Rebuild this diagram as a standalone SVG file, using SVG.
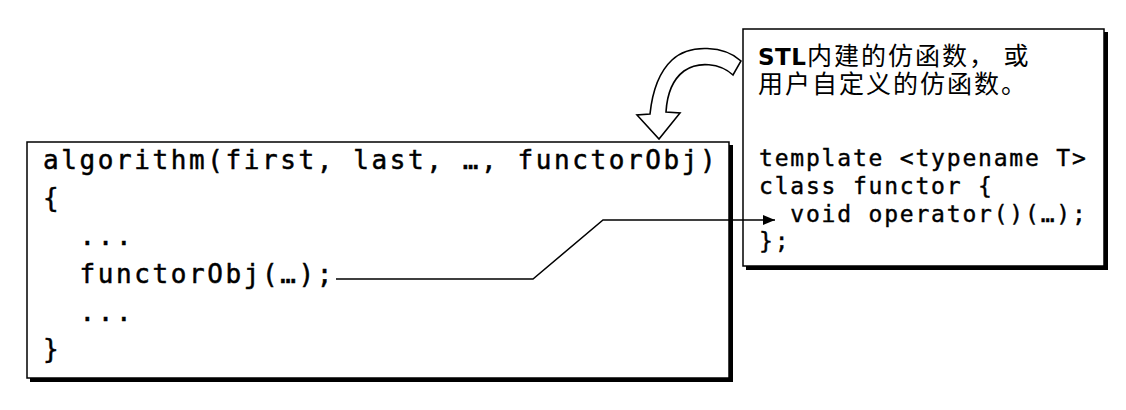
<svg xmlns="http://www.w3.org/2000/svg" width="1126" height="410" viewBox="0 0 1126 410">
  <style>
    .shadow { fill: #000; }
    .box { fill: #fff; stroke: #000; stroke-width: 1.5; }
    text { white-space: pre; }
    .codeL { font-family: "DejaVu Sans Mono", "Liberation Mono", monospace; font-size: 26px; letter-spacing: 2.6px; fill: #000; stroke: #000; stroke-width: 0.5; }
    .codeR { font-family: "DejaVu Sans Mono", "Liberation Mono", monospace; font-size: 23px; letter-spacing: 1.8px; fill: #000; stroke: #000; stroke-width: 0.4; }
    .cjk { font-family: "Noto Sans CJK SC", "Noto Sans", sans-serif; font-size: 25px; letter-spacing: 2px; fill: #000; }
    .bold { font-family: "DejaVu Sans", sans-serif; font-weight: bold; font-size: 23px; letter-spacing: 0.5px; fill: #000; }
    .line { fill: none; stroke: #000; stroke-width: 1.5; }
    .block { fill: #fff; stroke: #000; stroke-width: 1.6; stroke-linejoin: miter; }
  </style>
  <defs>
    <marker id="tri" viewBox="0 0 12 10" refX="12" refY="5" markerWidth="12" markerHeight="10" markerUnits="userSpaceOnUse" orient="auto">
      <path d="M0,0 L12,5 L0,10 Z" fill="#000"/>
    </marker>
  </defs>

  <g id="node-algorithm">
    <rect class="shadow" x="30" y="145" width="703" height="237"/>
    <rect class="box" x="27" y="142" width="702" height="236"/>
    <text class="codeL" x="43" y="169" xml:space="preserve">algorithm(first, last, …, functorObj)</text>
    <text class="codeL" x="43" y="207" xml:space="preserve">{</text>
    <text class="codeL" x="43" y="245" xml:space="preserve">  ...</text>
    <text class="codeL" x="43" y="283" xml:space="preserve">  functorObj(…);</text>
    <text class="codeL" x="43" y="321" xml:space="preserve">  ...</text>
    <text class="codeL" x="43" y="358" xml:space="preserve">}</text>
  </g>

  <g id="node-functor">
    <rect class="shadow" x="746" y="32" width="362" height="238"/>
    <rect class="box" x="743" y="29" width="361" height="237"/>
    <text class="bold" x="758" y="65">STL</text>
    <text class="cjk" x="807" y="65" xml:space="preserve">内建的仿函数， 或</text>
    <text class="cjk" x="758" y="93">用户自定义的仿函数。</text>
    <text class="codeR" x="759" y="166" xml:space="preserve">template &lt;typename T&gt;</text>
    <text class="codeR" x="759" y="194" xml:space="preserve">class functor {</text>
    <text class="codeR" x="759" y="222" xml:space="preserve">  void operator()(…);</text>
    <text class="codeR" x="759" y="249" xml:space="preserve">};</text>
  </g>

  <g id="connectors">
    <path class="block" d="M 741,61 C 725,46 690,43 672,60 C 658,73 652,95 650,114 L 637,115 L 659,139 L 680,113 L 666,112 C 667,95 672,80 684,71 C 698,61 720,63 733,75 Z"/>
    <path class="line" d="M 336,279 L 533,279 L 603,220 L 775,220" marker-end="url(#tri)"/>
  </g>
</svg>
